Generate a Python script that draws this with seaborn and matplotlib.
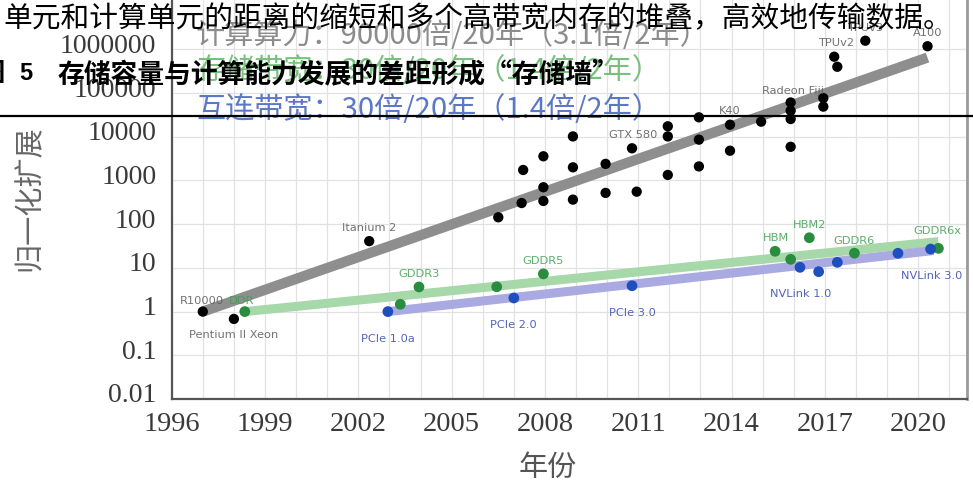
import matplotlib
matplotlib.use("Agg")
import matplotlib.pyplot as plt
import matplotlib.transforms as mtransforms
from matplotlib.lines import Line2D
import seaborn as sns

# ---------------- data ----------------
# Peak compute of processors / accelerators, normalised to R10000 = 1
compute_year = [1997.0, 1998.0, 2002.35, 2006.5, 2007.25, 2007.3, 2007.95, 2007.95,
                2007.95, 2008.9, 2008.9, 2008.9, 2009.95, 2009.95, 2010.95, 2010.8,
                2011.95, 2011.95, 2011.95, 2012.95, 2012.95, 2012.95, 2013.95, 2013.95,
                2014.95, 2015.9, 2015.9, 2015.9, 2015.9, 2016.95, 2016.95, 2017.3,
                2017.4, 2018.3, 2020.3]
compute_value = [1.0, 0.68, 41, 144, 305, 1740, 340, 700,
                 3580, 365, 2000, 10200, 520, 2400, 555, 5460,
                 17400, 10200, 1340, 27900, 8600, 2100, 18900, 4800,
                 22200, 61000, 39500, 25500, 5900, 77000, 49000, 680000,
                 400000, 1580000, 1180000]
compute_label = ["R10000", "Pentium II Xeon", "Itanium 2", "", "", "", "", "",
                 "", "", "", "", "", "", "", "",
                 "", "GTX 580", "", "", "", "", "K40", "",
                 "", "Radeon Fiji", "", "", "", "", "", "TPUv2",
                 "", "TPUv3", "A100"]

# DRAM bandwidth, normalised to DDR = 1
memory_year = [1998.35, 2003.35, 2003.95, 2006.45, 2007.95, 2015.4, 2015.9, 2016.5,
               2017.95, 2020.65]
memory_value = [1.0, 1.47, 3.66, 3.7, 7.3, 24, 15.7, 49, 21.7, 28]
memory_label = ["DDR", "", "GDDR3", "", "GDDR5", "HBM", "", "HBM2", "GDDR6", "GDDR6x"]

# Interconnect bandwidth, normalised to PCIe 1.0a = 1
link_year = [2002.95, 2007.0, 2010.8, 2016.2, 2016.8, 2017.4, 2019.35, 2020.4]
link_value = [1.0, 2.05, 3.9, 10.3, 8.2, 13.4, 21.6, 27]
link_label = ["PCIe 1.0a", "PCIe 2.0", "PCIe 3.0", "NVLink 1.0", "", "", "", "NVLink 3.0"]

# Fitted growth trends (end points)
compute_trend_year = [1997.0, 2020.3]
compute_trend_value = [1.0, 6.5e5]
memory_trend_year = [1998.35, 2020.65]
memory_trend_value = [1.0, 40]
link_trend_year = [2002.95, 2020.5]
link_trend_value = [1.0, 25]

year_ticks = [1996, 1999, 2002, 2005, 2008, 2011, 2014, 2017, 2020]
value_ticks = [0.01, 0.1, 1, 10, 100, 1000, 10000, 100000, 1000000]
value_tick_labels = ["0.01", "0.1", "1", "10", "100", "1000", "10000", "100000", "1000000"]

trend_texts = ["计算算力：90000倍/20年（3.1倍/2年）",
               "存储带宽：30倍/20年（1.4倍/2年）",
               "互连带宽：30倍/20年（1.4倍/2年）"]

# ---------------- styling ----------------
sns.set_theme(style="whitegrid")
plt.rcParams["font.family"] = ["DejaVu Sans"]
CJK = ["Noto Sans CJK SC", "DejaVu Sans"]
SERIF = ["Liberation Serif", "DejaVu Serif"]

W, H = 973, 489
fig = plt.figure(figsize=(W / 100, H / 100), dpi=100, facecolor="white")


def fx(px):
    return px / W


def fy(py):
    return 1 - py / H


ax = fig.add_axes([fx(171.7), fy(400), fx(966.7) - fx(171.7), fy(0) - fy(400)])
ax.set_facecolor("white")

GRAY_BAND = "#8e8e8e"
GREEN_BAND = "#a6d8aa"
BLUE_BAND = "#aaaae2"
GREEN_DOT = "#2a8c3e"
BLUE_DOT = "#1f4fbd"

# trend bands
sns.lineplot(x=compute_trend_year, y=compute_trend_value, ax=ax, color=GRAY_BAND,
             lw=7.4, solid_capstyle="butt", zorder=2)
sns.lineplot(x=memory_trend_year, y=memory_trend_value, ax=ax, color=GREEN_BAND,
             lw=6.5, solid_capstyle="butt", zorder=2)
sns.lineplot(x=link_trend_year, y=link_trend_value, ax=ax, color=BLUE_BAND,
             lw=6.5, solid_capstyle="butt", zorder=2)

# data points
sns.scatterplot(x=compute_year, y=compute_value, ax=ax, s=55, color="black",
                edgecolor="none", zorder=4)
sns.scatterplot(x=memory_year, y=memory_value, ax=ax, s=60, color=GREEN_DOT,
                edgecolor="none", zorder=4)
sns.scatterplot(x=link_year, y=link_value, ax=ax, s=60, color=BLUE_DOT,
                edgecolor="none", zorder=4)

ax.set_yscale("log")
ax.set_xlim(1996, 2021.56)
ax.set_ylim(0.01, 10 ** 7.153)

# point labels: offsets in points from the marker
label_offsets = {
    "R10000": (-0.7, 8.6), "Pentium II Xeon": (0, -10.8), "Itanium 2": (0, 9.9),
    "GTX 580": (-24.7, 1.6), "K40": (0, 10.8), "Radeon Fiji": (1.8, 9.2),
    "TPUv2": (1.0, 10.4), "TPUv3": (0, 10.0), "A100": (0, 10.0),
    "DDR": (-2.4, 8.6), "GDDR3": (0, 9.9), "GDDR5": (-0.5, 10.0), "HBM": (0.4, 10.0),
    "HBM2": (0, 9.9), "GDDR6": (0, 9.7), "GDDR6x": (-1.0, 13.4),
    "PCIe 1.0a": (0, -18.7), "PCIe 2.0": (0, -18.7), "PCIe 3.0": (0, -18.7),
    "NVLink 1.0": (0.5, -18.7), "NVLink 3.0": (0.7, -18.7),
}
for xs, ys, labels, col in [(compute_year, compute_value, compute_label, "#5a5a5a"),
                            (memory_year, memory_value, memory_label, "#3f9f50"),
                            (link_year, link_value, link_label, "#3548b0")]:
    for xv, yv, lab in zip(xs, ys, labels):
        if not lab:
            continue
        dx, dy = label_offsets[lab]
        ax.annotate(lab, (xv, yv), xytext=(dx, dy), textcoords="offset points",
                    ha="center", va="center", fontsize=8.2, color=col, alpha=0.85,
                    zorder=5)

# ticks and grid
ax.set_xticks(year_ticks)
ax.set_xticks(range(1996, 2022), minor=True)
ax.set_xticklabels([str(y) for y in year_ticks], family=SERIF, fontsize=20.5,
                   color="#3a3a3a")
ax.set_yticks(value_ticks)
ax.set_yticklabels(value_tick_labels, family=SERIF, fontsize=20, color="#3a3a3a")
ax.yaxis.set_minor_locator(matplotlib.ticker.NullLocator())
ax.tick_params(axis="both", which="both", length=0)
ax.tick_params(axis="y", pad=11)
ax.tick_params(axis="x", pad=9)
ax.grid(True, which="both", axis="x", color="#e2e2e2", lw=0.9)
ax.grid(True, which="major", axis="y", color="#e2e2e2", lw=0.9)
ax.set_axisbelow(True)

shift_up = mtransforms.ScaledTranslation(0, 7 / 100, fig.dpi_scale_trans)
for lbl in ax.get_yticklabels():
    lbl.set_transform(lbl.get_transform() + shift_up)

for side in ["left", "bottom"]:
    ax.spines[side].set_color("#555555")
    ax.spines[side].set_linewidth(1.6)
ax.spines["right"].set_color("#9a9a9a")
ax.spines["right"].set_linewidth(2.0)
ax.spines["top"].set_visible(False)

ax.set_xlabel("年份", family=CJK, fontsize=21, color="#555555", va="center")
ax.xaxis.set_label_coords((548 - 171.7) / 795, (400 - 468) / 400)
ax.set_ylabel("归一化扩展", family=CJK, fontsize=21, color="#666666", va="center")
ax.yaxis.set_label_coords((29.5 - 171.7) / 795, (400 - 198) / 400)

# growth-rate annotations inside the plot
for txt, col, py in zip(trend_texts, ["#8c8c8c", "#79c07e", "#5b78c6"], [36, 71, 110]):
    fig.text(fx(196), fy(py), txt, family=CJK, fontsize=21, color=col,
             ha="left", va="center", zorder=3)

# surrounding page text
fig.text(fx(3), fy(19), "单元和计算单元的距离的缩短和多个高带宽内存的堆叠，高效地传输数据。",
         family=CJK, fontsize=20.7, color="black", ha="left", va="center", zorder=10)
fig.text(fx(4), fy(74), "图", family=CJK, fontsize=19, fontweight="bold",
         color="black", ha="right", va="center", zorder=10)
fig.text(fx(19), fy(74), "5", family=["Liberation Sans", "DejaVu Sans"], fontsize=17,
         fontweight="bold", color="black", ha="left", va="center", zorder=10)
fig.text(fx(58), fy(74), "存储容量与计算能力发展的差距形成“存储墙”", family=CJK,
         fontsize=19.3, fontweight="bold", color="black", ha="left", va="center",
         zorder=10)
fig.add_artist(Line2D([0, 1], [fy(117), fy(117)], transform=fig.transFigure,
                      color="black", lw=1.6, zorder=10))

fig.savefig("out.png", dpi=100, facecolor="white")
